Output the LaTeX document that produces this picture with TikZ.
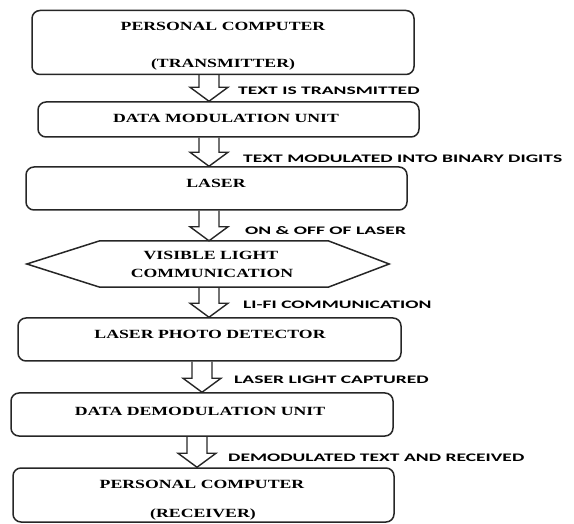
\documentclass[tikz,border=0pt]{standalone}
\usepackage{fontspec}
\usetikzlibrary{calc}
\newfontfamily\boxfont[FakeStretch=1.42]{Liberation Serif}
\newfontfamily\tagfont[FakeStretch=1.7]{Carlito}
\tikzset{
  stage/.style={draw=black!85, line width=1.5pt, rounded corners=8pt, inner sep=0pt},
  stageline/.style={draw=black!85, line width=1.5pt},
  stagetext/.style={font=\boxfont\bfseries\fontsize{12.5}{15}\selectfont,
    inner sep=0pt, text height=8.3pt, text depth=0pt},
  tag/.style={font=\tagfont\bfseries\fontsize{11.5}{14}\selectfont,
    inner sep=0pt, anchor=west, text height=7.4pt, text depth=0pt},
  hollow/.style={draw=black!85, line width=1.4pt, line join=miter},
}
% hollow block arrow from the bottom of #1 to the top of #2, centred at x=#3
\newcommand\flowarrow[3]{%
  \draw[hollow] let \p1=(#1.south), \p2=(#2.north) in
    (#3-10pt,\y1) -- (#3-10pt,\y2+14pt) -- (#3-19pt,\y2+14pt) -- (#3,\y2)
    -- (#3+19pt,\y2+14pt) -- (#3+10pt,\y2+14pt) -- (#3+10pt,\y1);
}
\begin{document}
\begin{tikzpicture}[x=1pt, y=-1pt]
\useasboundingbox (0,0) rectangle (574,524);

% process stages
\node[stage, minimum width=382pt, minimum height=64pt] (b1) at (223,42.5) {};
\node[stage, minimum width=381pt, minimum height=35pt] (b2) at (228.5,119.5) {};
\node[stage, minimum width=381pt, minimum height=43pt] (b3) at (216.5,188.5) {};
\node[inner sep=0pt, minimum width=228pt, minimum height=46pt] (hex) at (214,264) {};
\draw[stageline] (hex.north west) -- (hex.north east) -- ([xshift=61pt]hex.east)
  -- (hex.south east) -- (hex.south west) -- ([xshift=-73pt]hex.west) -- cycle;
\node[stage, minimum width=383pt, minimum height=43pt] (b5) at (209.5,339.5) {};
\node[stage, minimum width=382pt, minimum height=43pt] (b6) at (202,414.5) {};
\node[stage, minimum width=381pt, minimum height=54pt] (b7) at (203.5,495) {};

% stage titles
\node[stagetext] (t1a) at (223,26) {PERSONAL COMPUTER};
\node[stagetext] (t1b) at (223,63) {(TRANSMITTER)};
\node[stagetext] (t2) at (226,118) {DATA MODULATION UNIT};
\node[stagetext] (t3) at (216,183) {LASER};
\node[stagetext] (th1) at (211,255) {VISIBLE LIGHT};
\node[stagetext] (th2) at (212,273) {COMMUNICATION};
\node[stagetext] (t5) at (210,334) {LASER PHOTO DETECTOR};
\node[stagetext] (t6) at (200,411) {DATA DEMODULATION UNIT};
\node[stagetext] (t7a) at (202,484) {PERSONAL COMPUTER};
\node[stagetext] (t7b) at (203,513) {(RECEIVER)};

% flow arrows
\flowarrow{b1}{b2}{209pt}
\flowarrow{b2}{b3}{209pt}
\flowarrow{b3}{hex}{209pt}
\flowarrow{hex}{b5}{209pt}
\flowarrow{b5}{b6}{202pt}
\flowarrow{b6}{b7}{197pt}

% arrow captions
\node[tag] (l1) at (238,91) {TEXT IS TRANSMITTED};
\node[tag] (l2) at (243,159) {TEXT MODULATED INTO BINARY DIGITS};
\node[tag] (l3) at (245,231) {ON \& OFF OF LASER};
\node[tag] (l4) at (243,305) {LI-FI COMMUNICATION};
\node[tag] (l5) at (234,380) {LASER LIGHT CAPTURED};
\node[tag] (l6) at (228,458) {DEMODULATED TEXT AND RECEIVED};
\end{tikzpicture}
\end{document}
